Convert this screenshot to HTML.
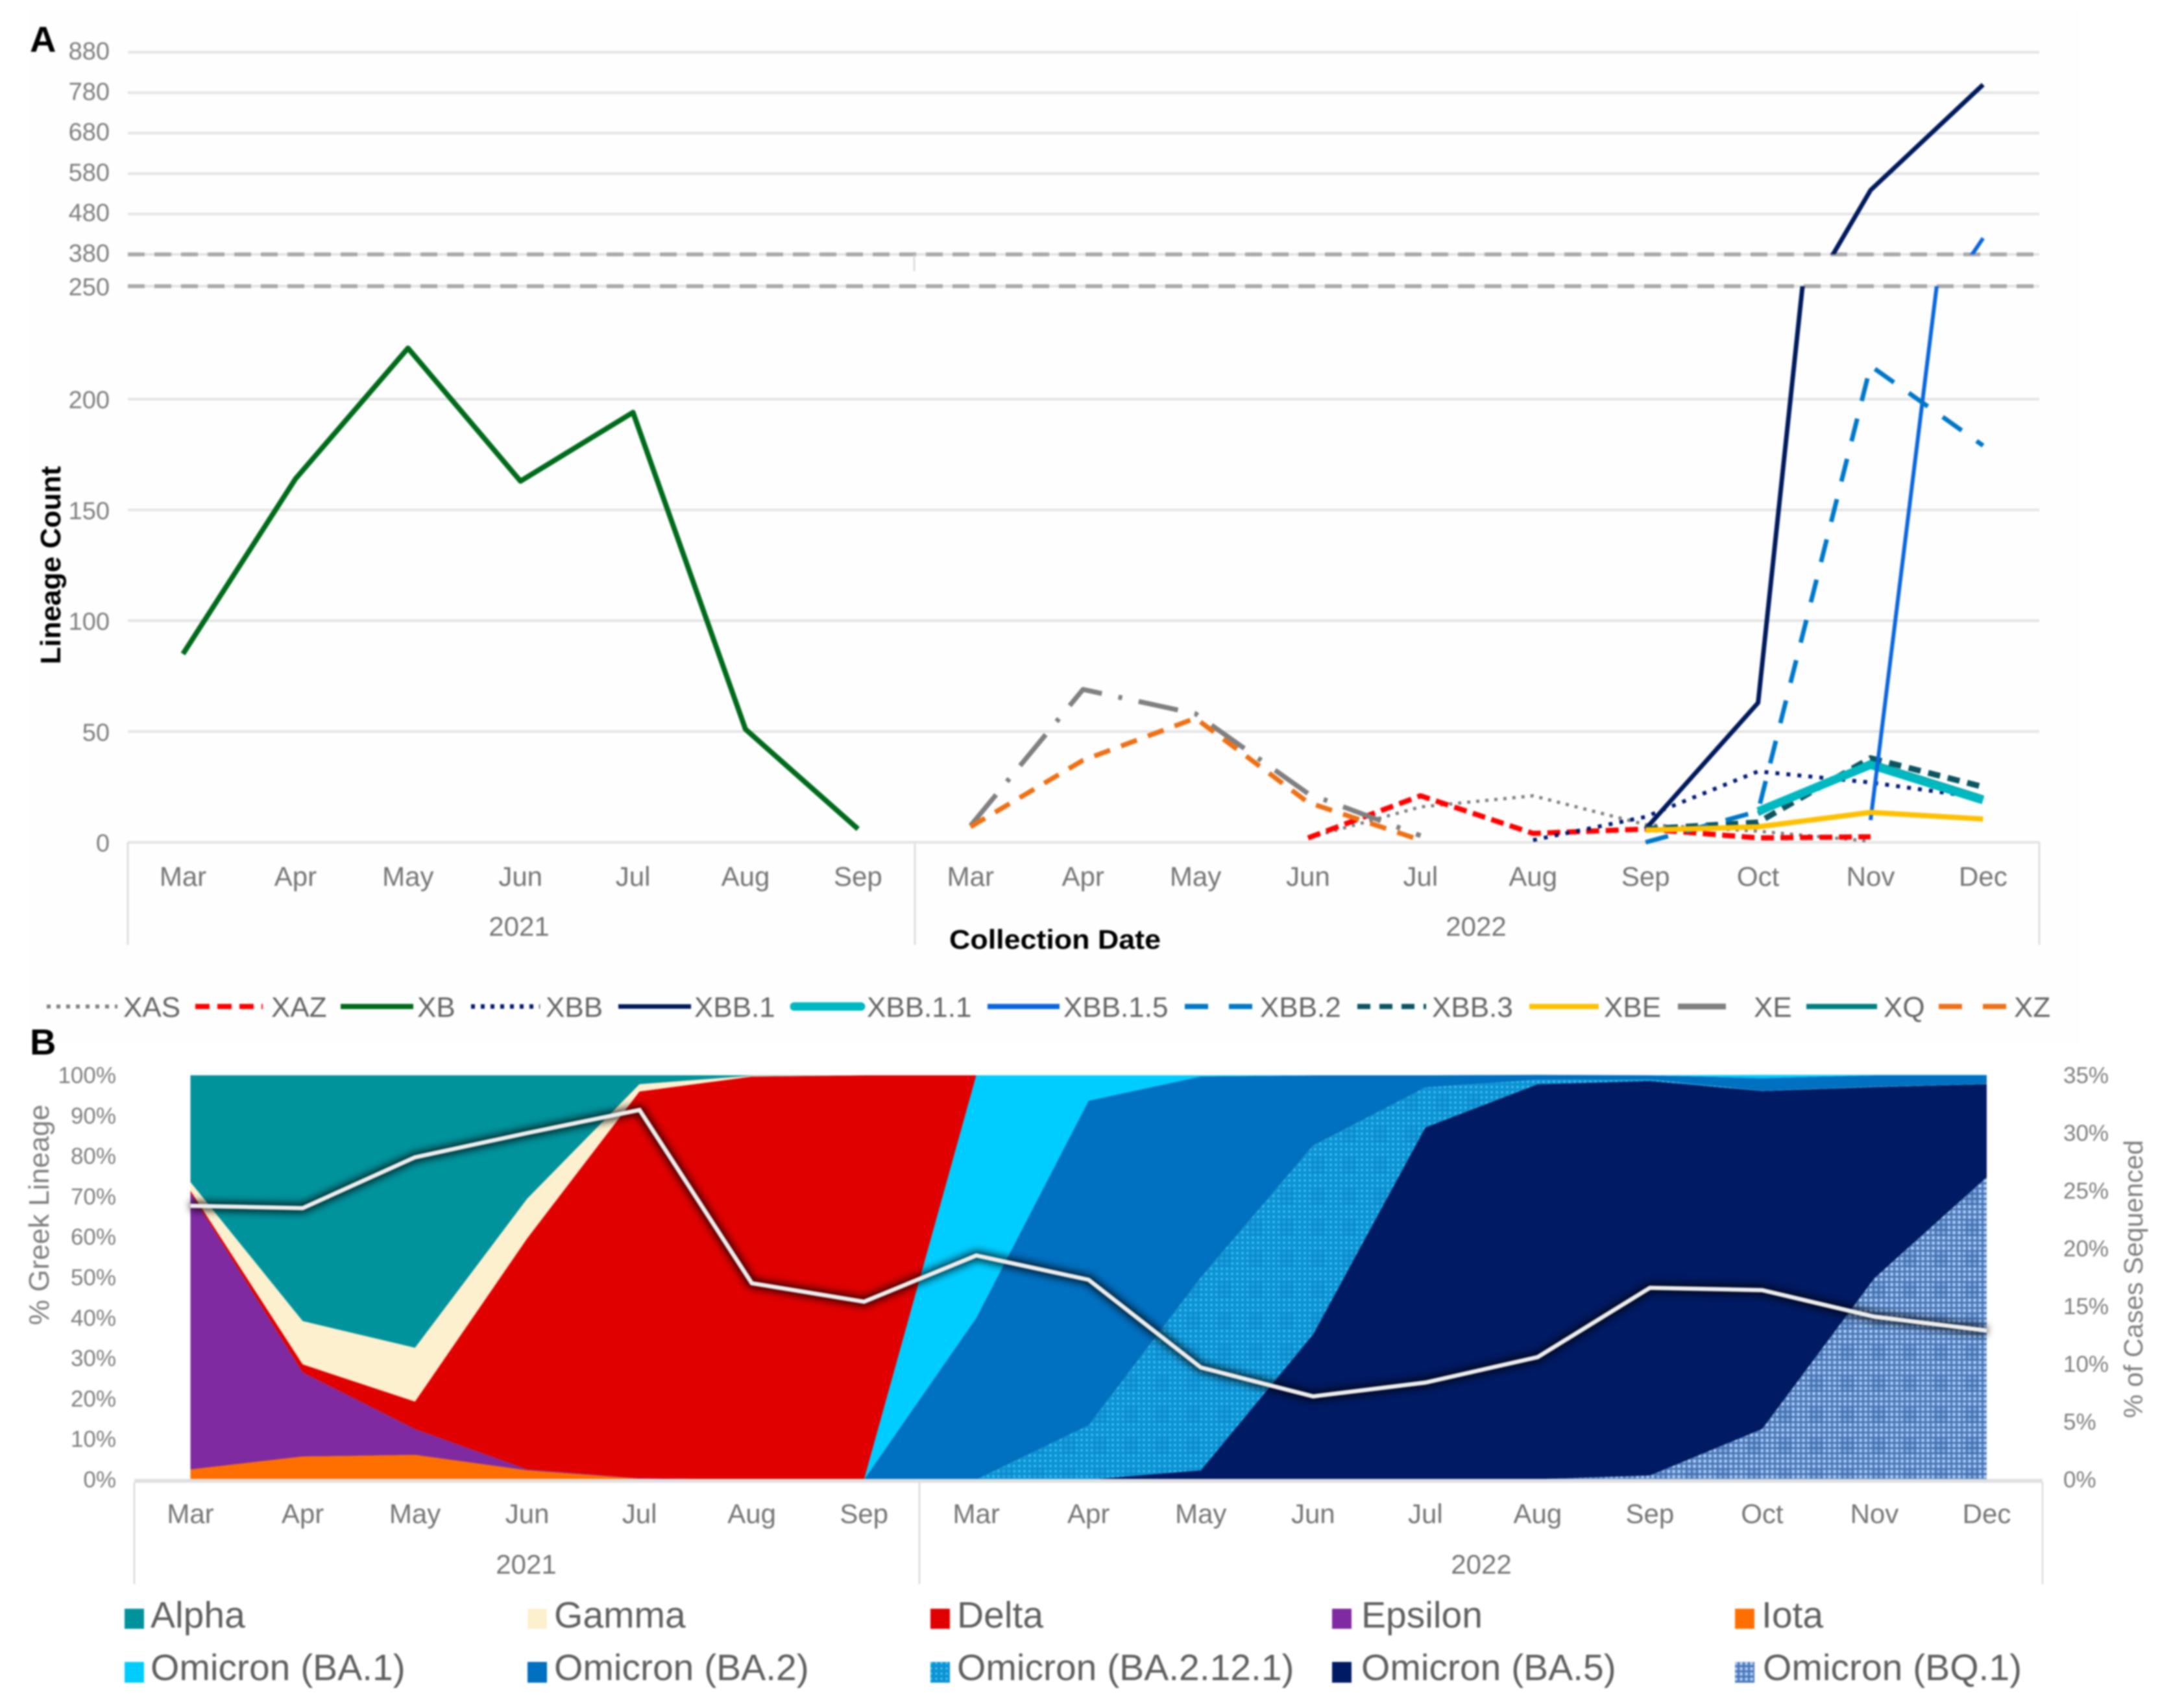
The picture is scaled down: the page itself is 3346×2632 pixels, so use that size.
<!DOCTYPE html>
<html lang="en">
<head>
<meta charset="utf-8">
<title>Lineage count and Greek lineage share, 2021–2022</title>
<style>
html,body{margin:0;padding:0;background:#fff;width:3346px;height:2632px;overflow:hidden}
svg{display:block;filter:blur(1.3px)}
text{font-family:"Liberation Sans",sans-serif}
.tick{fill:#7f7f7f;font-size:38px}
.tickb{fill:#7f7f7f;font-size:35px}
.cat{fill:#757575;font-size:42px}
.lega{fill:#666;font-size:44px}
.legb{fill:#5f5f5f;font-size:57px}
.ttl{font-weight:bold;fill:#000}
.ttlg{fill:#808080}
</style>
</head>
<body>
<svg id="figure" xmlns="http://www.w3.org/2000/svg" width="3346" height="2632" viewBox="0 0 3346 2632">
<defs>
<clipPath id="clip-upper"><rect x="190" y="0" width="3000" height="392"/></clipPath>
<clipPath id="clip-lower"><rect x="190" y="441" width="3000" height="860"/></clipPath>
<pattern id="dots-ba2121" width="8" height="8" patternUnits="userSpaceOnUse"><rect width="8" height="8" fill="#0a92d4"/><rect x="1" y="1" width="4" height="4" fill="#3ab6ea"/></pattern>
<pattern id="dots-bq1" width="8" height="8" patternUnits="userSpaceOnUse"><rect width="8" height="8" fill="#4675ba"/><rect x="1" y="1" width="5" height="5" fill="#abc8ec"/></pattern>
<pattern id="hatch-bq1" width="48" height="48" patternUnits="userSpaceOnUse"><rect width="48" height="48" fill="url(#dots-bq1)"/><rect x="4" y="8" width="22" height="24" fill="#2f5ea8" opacity=".25"/></pattern>
<pattern id="hatch-ba2121" width="48" height="48" patternUnits="userSpaceOnUse"><rect width="48" height="48" fill="url(#dots-ba2121)"/><rect x="4" y="8" width="22" height="24" fill="#0a80c4" opacity=".25"/></pattern>
<filter id="glow" x="-5%" y="-20%" width="110%" height="140%"><feGaussianBlur stdDeviation="6"/></filter>
</defs>

<rect width="3346" height="2632" fill="#fff"/>
<rect x="45" y="15" width="3160" height="1595" fill="#fefefe"/>

<text x="46" y="80" font-size="56" class="ttl">A</text>
<text x="46" y="1625" font-size="56" class="ttl">B</text>

<g id="chart-a"></g>

<text class="ttl" font-size="44" transform="translate(93,871) rotate(-90)" text-anchor="middle">Lineage Count</text>
<text class="ttl" font-size="42" x="1626" y="1462" text-anchor="middle" textLength="326" lengthAdjust="spacingAndGlyphs">Collection Date</text>

<g>
<g><line x1="72" x2="181" y1="1551" y2="1551" stroke="#808080" stroke-width="6" stroke-dasharray="6 9"/><text class="lega" x="190" y="1567">XAS</text></g>
<g><line x1="301" x2="405" y1="1551" y2="1551" stroke="#ff0000" stroke-width="8" stroke-dasharray="22 12"/><text class="lega" x="418" y="1567">XAZ</text></g>
<g><line x1="525" x2="637" y1="1551" y2="1551" stroke="#006b1b" stroke-width="8"/><text class="lega" x="643" y="1567">XB</text></g>
<g><line x1="726" x2="832" y1="1551" y2="1551" stroke="#001a70" stroke-width="7" stroke-dasharray="6 9"/><text class="lega" x="841" y="1567">XBB</text></g>
<g><line x1="953" x2="1065" y1="1551" y2="1551" stroke="#001a5c" stroke-width="7"/><text class="lega" x="1070" y="1567">XBB.1</text></g>
<g><line x1="1224" x2="1327" y1="1551" y2="1551" stroke="#00b8c0" stroke-width="13" stroke-linecap="round"/><text class="lega" x="1336" y="1567">XBB.1.1</text></g>
<g><line x1="1522" x2="1633" y1="1551" y2="1551" stroke="#0a66dc" stroke-width="8"/><text class="lega" x="1639" y="1567">XBB.1.5</text></g>
<g><line x1="1826" x2="1930" y1="1551" y2="1551" stroke="#0078c8" stroke-width="8" stroke-dasharray="36 32"/><text class="lega" x="1942" y="1567">XBB.2</text></g>
<g><line x1="2092" x2="2198" y1="1551" y2="1551" stroke="#0b5560" stroke-width="8" stroke-dasharray="20 14"/><text class="lega" x="2207" y="1567">XBB.3</text></g>
<g><line x1="2357" x2="2464" y1="1551" y2="1551" stroke="#ffc000" stroke-width="8"/><text class="lega" x="2472" y="1567">XBE</text></g>
<g><line x1="2586" x2="2660" y1="1551" y2="1551" stroke="#808080" stroke-width="9"/><text class="lega" x="2703" y="1567">XE</text></g>
<g><line x1="2784" x2="2893" y1="1551" y2="1551" stroke="#008080" stroke-width="8"/><text class="lega" x="2903" y="1567">XQ</text></g>
<g><line x1="2988" x2="3092" y1="1551" y2="1551" stroke="#ed7117" stroke-width="8" stroke-dasharray="36 32"/><text class="lega" x="3104" y="1567">XZ</text></g>
</g>

<g id="chart-b"></g>

<text class="ttlg" font-size="44" transform="translate(75,1872) rotate(-90)" text-anchor="middle">% Greek Lineage</text>
<text class="ttlg" font-size="41" transform="translate(3302,1971) rotate(-90)" text-anchor="middle">% of Cases Sequenced</text>

<g>
<g><rect x="192" y="2479" width="30" height="31" fill="#00939c"/><text class="legb" x="232" y="2508">Alpha</text></g>
<g><rect x="813" y="2479" width="30" height="31" fill="#fdf0cf"/><text class="legb" x="854" y="2508">Gamma</text></g>
<g><rect x="1434" y="2479" width="30" height="31" fill="#e00000"/><text class="legb" x="1475" y="2508">Delta</text></g>
<g><rect x="2053" y="2479" width="30" height="31" fill="#7f2aa0"/><text class="legb" x="2098" y="2508">Epsilon</text></g>
<g><rect x="2674" y="2479" width="30" height="31" fill="#ff6f00"/><text class="legb" x="2715" y="2508">Iota</text></g>
<g><rect x="192" y="2561" width="30" height="32" fill="#00cdff"/><text class="legb" x="232" y="2589">Omicron (BA.1)</text></g>
<g><rect x="813" y="2561" width="30" height="32" fill="#0070c0"/><text class="legb" x="854" y="2589">Omicron (BA.2)</text></g>
<g><rect x="1434" y="2561" width="30" height="32" fill="url(#dots-ba2121)"/><text class="legb" x="1475" y="2589">Omicron (BA.2.12.1)</text></g>
<g><rect x="2053" y="2561" width="30" height="32" fill="#001a63"/><text class="legb" x="2098" y="2589">Omicron (BA.5)</text></g>
<g><rect x="2674" y="2561" width="30" height="32" fill="url(#dots-bq1)"/><text class="legb" x="2717" y="2589">Omicron (BQ.1)</text></g>
</g>
</svg>

<script>
// ---- shared categories ----
const months = ['Mar','Apr','May','Jun','Jul','Aug','Sep','Mar','Apr','May','Jun','Jul','Aug','Sep','Oct','Nov','Dec'];
const years = ['2021','2022'];

// ---- panel A data (lineage counts; null = not present) ----
const upperTicks = [880,780,680,580,480,380];
const lowerTicks = [250,200,150,100,50,0];
const xas  = [null,null,null,null,null,null,null,null,null,null,2,16,21,8,5,0.5,null];
const xaz  = [null,null,null,null,null,null,null,null,null,null,2,21,4,6,2,2.5,null];
const xb   = [85,164,223,163,194,51,6,null,null,null,null,null,null,null,null,null,null];
const xbb  = [null,null,null,null,null,null,null,null,null,null,null,null,1,11.5,32,27,20];
const xbb1 = [null,null,null,null,null,null,null,null,null,null,null,null,null,6,63,539,800];
const xbb11= [null,null,null,null,null,null,null,null,null,null,null,null,null,null,14,35,19];
const xbb15= [null,null,null,null,null,null,null,null,null,null,null,null,null,null,null,10,420];
const xbb2 = [null,null,null,null,null,null,null,null,null,null,null,null,null,0,14,215,179];
const xbb3 = [null,null,null,null,null,null,null,null,null,null,null,null,null,6,9,38,25];
const xbe  = [null,null,null,null,null,null,null,null,null,null,null,null,null,5.5,7,13.5,10.5];
const xe   = [null,null,null,null,null,null,null,7.5,69,58,22,3,null,null,null,null,null];
const xq   = [null,null,null,null,null,null,null,null,null,null,null,null,null,null,13,36,20];
const xz   = [null,null,null,null,null,null,null,7,37,56,18,1,null,null,null,null,null];

// ---- panel B data (% of sequences per Greek lineage, stacked bottom-up) ----
const percentTicks = [0,10,20,30,40,50,60,70,80,90,100];
const casesTicks = [0,5,10,15,20,25,30,35];
const bq1     = [0,0,0,0,0,0,0, 0,0,0,0,0,0.1,1,12.5,49.8,74.8];
const ba5     = [0,0,0,0,0,0,0, 0,0,2.3,35.9,87.1,97.7,97.6,83.6,47.3,23];
const ba2121  = [0,0,0,0,0,0,0, 0,13.4,47.7,46.7,9.9,1.1,0.4,0.1,0.1,0.1];
const ba2     = [0,0,0,0,0,0,0, 40,80.3,49.7,17.4,3,1.2,1,3.1,2.8,2.1];
const ba1     = [0,0,0,0,0,0,0, 60,6.3,0.3,0,0,0,0,0.8,0.1,0.1];
const iota    = [2.5,5.7,6.1,2.3,0.2,0,0, 0,0,0,0,0,0,0,0,0,0];
const epsilon = [68.5,20.8,6.4,0.2,0.1,0,0, 0,0,0,0,0,0,0,0,0,0];
const delta   = [0.5,2,6.8,57.2,95.7,99.7,100, 0,0,0,0,0,0,0,0,0,0];
const gamma   = [2.1,10.7,13.3,9.8,1.8,0.2,0, 0,0,0,0,0,0,0,0,0,0];
const alpha   = [26.4,60.8,67.4,30.5,2.2,0.1,0, 0,0,0,0,0,0,0,0,0,0];
const casesSequenced = [23.7,23.5,27.9,30,32,17,15.4,19.4,17.3,9.7,7.2,8.4,10.6,16.6,16.4,14.1,12.9];

// ---- axis functions ----
const xA = i => 282 + 173.4 * i;
const yUpper = v => 392 + (380 - v) * 0.6228;
const yLower = v => 1298 - v * 3.415;
const xB = i => 293.5 + 173.03 * i;
const yPct = v => 2280 - v * 6.23;
const yCases = v => 2280 - v * 17.8;

const NS = 'http://www.w3.org/2000/svg';
const chartA = document.getElementById('chart-a');
const chartB = document.getElementById('chart-b');

function mk(parent, tag, attrs, txt) {
  const el = document.createElementNS(NS, tag);
  for (const k in attrs) el.setAttribute(k, attrs[k]);
  if (txt !== undefined) el.textContent = txt;
  parent.appendChild(el);
  return el;
}
function linePath(values, xf, yf) {
  let d = '', pen = false;
  values.forEach((v, i) => {
    if (v === null) { pen = false; return; }
    d += (pen ? 'L' : 'M') + xf(i).toFixed(1) + ' ' + yf(v).toFixed(1);
    pen = true;
  });
  return d;
}

// ---- panel A: grid, axis, labels ----
upperTicks.forEach(t => {
  const y = yUpper(t);
  const g = mk(chartA, 'line', {x1:197, x2:3143, y1:y, y2:y, stroke:'#e4e4e4', 'stroke-width':4});
  
  
  const l = mk(chartA, 'text', {x:169, y:y + 11, class:'tick', 'text-anchor':'end'}, String(t));
  
  
});
lowerTicks.forEach(t => {
  const y = t === 250 ? 441 : yLower(t);
  const g = mk(chartA, 'line', {x1:197, x2:3143, y1:y, y2:y, stroke:'#e4e4e4', 'stroke-width':4});
  
  
  const l = mk(chartA, 'text', {x:169, y:y + 14, class:'tick', 'text-anchor':'end'}, String(t));
  
  
});
[392,441].forEach((y, n) => {
  const b = mk(chartA, 'line', {x1:197, x2:3143, y1:y, y2:y, stroke:'#a9a9a9', 'stroke-width':6, 'stroke-dasharray':'26 15'});
  
  
});
const breakTick = mk(chartA, 'line', {x1:1409, x2:1409, y1:392, y2:418, stroke:'#cfcfcf', 'stroke-width':2});


[197,1410,3143].forEach((x, n) => {
  const v = mk(chartA, 'line', {x1:x, x2:x, y1:1298, y2:1456, stroke:'#d9d9d9', 'stroke-width':2.5});
  
  
});
months.forEach((m, i) => {
  const t = mk(chartA, 'text', {x:xA(i), y:1365, class:'cat', 'text-anchor':'middle'}, m);
  
  
});
years.forEach((yr, n) => {
  const t = mk(chartA, 'text', {x:n === 0 ? 800 : 2275, y:1442, class:'cat', 'text-anchor':'middle'}, yr);
  
  
});

// ---- panel A: series (drawn in both broken-axis panels) ----
const seriesA = [
  ['xas', xas, '#808080', 5, '5 9'],
  ['xaz', xaz, '#ff0000', 8, '20 10'],
  ['xb', xb, '#006b1b', 8, ''],
  ['xbb', xbb, '#001a70', 6, '6 11'],
  ['xbb-1', xbb1, '#001a5c', 7, ''],
  ['xq', xq, '#008080', 8, ''],
  ['xbb-3', xbb3, '#0b5560', 9, '19 12'],
  ['xbb-1-1', xbb11, '#00b8c0', 13, ''],
  ['xbb-1-5', xbb15, '#0a66dc', 6, ''],
  ['xbb-2', xbb2, '#0078c8', 7, '36 28'],
  ['xbe', xbe, '#ffc000', 8, ''],
  ['xe', xe, '#808080', 7.5, '62 26 6 26'],
  ['xz', xz, '#ed7117', 7.5, '26 18']
];
seriesA.forEach(s => {
  const lo = mk(chartA, 'path', {d:linePath(s[1], xA, yLower), fill:'none', stroke:s[2], 'stroke-width':s[3], 'stroke-dasharray':s[4], 'stroke-linejoin':'round', 'clip-path':'url(#clip-lower)'});
  
  
  const up = mk(chartA, 'path', {d:linePath(s[1], xA, yUpper), fill:'none', stroke:s[2], 'stroke-width':s[3], 'stroke-dasharray':s[4], 'stroke-linejoin':'round', 'clip-path':'url(#clip-upper)'});
  
  
});

// ---- panel B: stacked areas ----
const seriesB = [
  ['omicron-bq1', bq1, 'url(#hatch-bq1)'],
  ['omicron-ba5', ba5, '#001a63'],
  ['omicron-ba2121', ba2121, 'url(#hatch-ba2121)'],
  ['omicron-ba2', ba2, '#0070c0'],
  ['omicron-ba1', ba1, '#00cdff'],
  ['iota', iota, '#ff6f00'],
  ['epsilon', epsilon, '#7f2aa0'],
  ['delta', delta, '#e00000'],
  ['gamma', gamma, '#fdf0cf'],
  ['alpha', alpha, '#00939c']
];
const base = months.map(() => 0);
seriesB.forEach(s => {
  const top = base.map((b, i) => b + s[1][i]);
  let d = '';
  top.forEach((v, i) => { d += (i ? 'L' : 'M') + xB(i).toFixed(1) + ' ' + yPct(v).toFixed(1); });
  for (let i = base.length - 1; i >= 0; i--) d += 'L' + xB(i).toFixed(1) + ' ' + yPct(base[i]).toFixed(1);
  const a = mk(chartB, 'path', {d:d + 'Z', fill:s[2]});
  
  
  top.forEach((v, i) => { base[i] = v; });
});

// ---- panel B: axes ----
const axisBand = mk(chartB, 'line', {x1:207, x2:3148, y1:2282, y2:2282, stroke:'#e0e0e0', 'stroke-width':6});


[207,1417,3148].forEach((x, n) => {
  const v = mk(chartB, 'line', {x1:x, x2:x, y1:2284, y2:2441, stroke:'#d9d9d9', 'stroke-width':2.5});
  
  
});
percentTicks.forEach(t => {
  const l = mk(chartB, 'text', {x:179, y:yPct(t) + 12, class:'tickb', 'text-anchor':'end'}, t + '%');
  
  
});
casesTicks.forEach(t => {
  const l = mk(chartB, 'text', {x:3180, y:yCases(t) + 12, class:'tickb'}, t + '%');
  
  
});
months.forEach((m, i) => {
  const t = mk(chartB, 'text', {x:xB(i), y:2347, class:'cat', 'text-anchor':'middle'}, m);
  
  
});
years.forEach((yr, n) => {
  const t = mk(chartB, 'text', {x:n === 0 ? 811 : 2283, y:2425, class:'cat', 'text-anchor':'middle'}, yr);
  
  
});

// ---- panel B: % of cases sequenced line with soft shadow ----
const casesD = linePath(casesSequenced, xB, yCases);
const shadow = mk(chartB, 'path', {d:casesD, fill:'none', stroke:'#000', 'stroke-width':14, opacity:.8, filter:'url(#glow)', 'stroke-linejoin':'miter'});


const casesLine = mk(chartB, 'path', {d:casesD, fill:'none', stroke:'#ededed', 'stroke-width':6.5, 'stroke-linejoin':'miter'});


</script>
</body>
</html>
